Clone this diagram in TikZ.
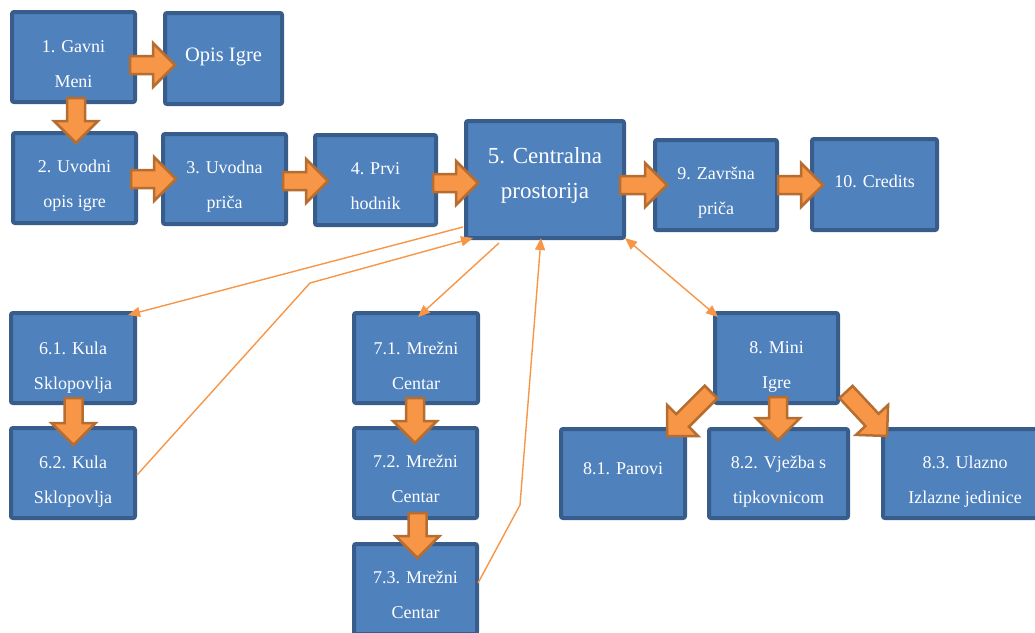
\documentclass[tikz,border=0pt]{standalone}
\usepackage{fontspec}
\setmainfont{Liberation Serif}
\usetikzlibrary{calc,arrows.meta}
\definecolor{boxfill}{HTML}{4F81BD}
\definecolor{boxline}{HTML}{385D8A}
\definecolor{orfill}{HTML}{F79646}
\definecolor{orline}{HTML}{B66D31}
\newcommand\blockarr[2]{%
  \path #1 coordinate (ba-s) #2 coordinate (ba-e);
  \draw[barrow] let \p1=($(ba-e)-(ba-s)$), \n1={atan2(\y1,\x1)}, \n2={veclen(\x1,\y1)} in
   [shift={(ba-s)}, rotate=\n1] (0,-9) -- ({\n2-22},-9) -- ({\n2-22},-22) -- (\n2,0) -- ({\n2-22},22) -- ({\n2-22},9) -- (0,9) -- cycle;}
\begin{document}
\begin{tikzpicture}[x=1pt,y=-1pt,
  box/.style={draw=boxline, fill=boxfill, line width=4pt, rounded corners=2pt, inner sep=0pt},
  txt/.style={text=white, align=center, font=\fontsize{18}{35}\selectfont, inner sep=0pt},
  barrow/.style={draw=orline, fill=orfill, line width=2.5pt, line join=miter},
  conn/.style={draw=orfill, line width=1.4pt, -{Triangle[length=12pt,width=10pt]}},
  conn2/.style={draw=orfill, line width=1.4pt, {Triangle[length=12pt,width=10pt]}-{Triangle[length=12pt,width=10pt]}}]
\useasboundingbox (0,0) rectangle (1035,632);
\clip (0,0) rectangle (1035,632);
% boxes
\node[box, minimum width=123pt, minimum height=90pt] (b1) at (73.5,57) {};
\node[box, minimum width=117pt, minimum height=91pt] (opis) at (223.5,58.5) {};
\node[box, minimum width=123pt, minimum height=90pt] (b2) at (74.5,178) {};
\node[box, minimum width=123pt, minimum height=90pt] (b3) at (224.5,179) {};
\node[box, minimum width=121pt, minimum height=90pt] (b4) at (375.5,180) {};
\node[box, minimum width=158pt, minimum height=117pt] (b5) at (545,179.5) {};
\node[box, minimum width=122pt, minimum height=90pt] (b9) at (716,185) {};
\node[box, minimum width=125pt, minimum height=91pt] (b10) at (874.5,184.5) {};
\node[box, minimum width=124pt, minimum height=90pt] (b61) at (73,358) {};
\node[box, minimum width=124pt, minimum height=90pt] (b62) at (73,473) {};
\node[box, minimum width=124pt, minimum height=90pt] (b71) at (416,358) {};
\node[box, minimum width=123pt, minimum height=90pt] (b72) at (415.5,473) {};
\node[box, minimum width=123pt, minimum height=90pt] (b73) at (415.5,589) {};
\node[box, minimum width=123pt, minimum height=90pt] (b8) at (776.5,358) {};
\node[box, minimum width=124pt, minimum height=89pt] (b81) at (623,473.5) {};
\node[box, minimum width=139pt, minimum height=89pt] (b82) at (778.5,473.5) {};
\node[box, minimum width=164pt, minimum height=89pt] (b83) at (965,473.5) {};
% texts
\node[txt] (t1) at ($(b1.center)+(0,7.5)$) {1. Gavni\\Meni};
\node[txt, font=\fontsize{20.5}{35}\selectfont] (topis) at ($(opis.center)+(0,-1.5)$) {Opis Igre};
\node[txt] (t2) at ($(b2.center)+(0,8)$) {2. Uvodni\\opis igre};
\node[txt] (t3) at ($(b3.center)+(0,8)$) {3. Uvodna\\priča};
\node[txt] (t4) at ($(b4.center)+(0,6)$) {4. Prvi\\hodnik};
\node[txt, font=\fontsize{23}{35}\selectfont] (t5) at ($(b5.center)+(0,-4.5)$) {5. Centralna\\prostorija};
\node[txt] (t9) at ($(b9.center)+(0,7.5)$) {9. Završna\\priča};
\node[txt] (t10) at ($(b10.center)+(0,-3.5)$) {10. Credits};
\node[txt] (t61) at ($(b61.center)+(0,10)$) {6.1. Kula\\Sklopovlja};
\node[txt] (t62) at ($(b62.center)+(0,8.5)$) {6.2. Kula\\Sklopovlja};
\node[txt] (t71) at ($(b71.center)+(0,7.5)$) {7.1. Mrežni\\Centar};
\node[txt] (t72) at ($(b72.center)+(0,6)$) {7.2. Mrežni\\Centar};
\node[txt] (t73) at ($(b73.center)+(0,6)$) {7.3. Mrežni\\Centar};
\node[txt] (t8) at ($(b8.center)+(0,8.5)$) {8. Mini\\Igre};
\node[txt] (t81) at ($(b81.center)+(0,-4.5)$) {8.1. Parovi};
\node[txt] (t82) at ($(b82.center)+(0,8.5)$) {8.2. Vježba s\\tipkovnicom};
\node[txt] (t83) at ($(b83.center)+(0,8)$) {8.3. Ulazno\\Izlazne jedinice};
% block arrows
\blockarr{($(b1.east)+(-7,8)$)}{($(opis.west)+(12,6.5)$)}
\blockarr{($(b1.south)+(2.5,-6)$)}{($(b2.north)+(1.5,12)$)}
\blockarr{($(b2.east)+(-7,1)$)}{($(b3.west)+(15,0)$)}
\blockarr{($(b3.east)+(-5,2)$)}{($(b4.west)+(15,1)$)}
\blockarr{($(b4.east)+(-5,3)$)}{($(b5.west)+(14,3.5)$)}
\blockarr{($(b5.east)+(-6,5.5)$)}{($(b9.west)+(14,0)$)}
\blockarr{($(b9.east)+(-1,0)$)}{($(b10.west)+(13,0.5)$)}
\blockarr{($(b61.south)+(0.5,-7)$)}{($(b62.north)+(0.5,19)$)}
\blockarr{($(b71.south)+(-1,-7)$)}{($(b72.north)+(-0.5,17)$)}
\blockarr{($(b72.south)+(2,-7)$)}{($(b73.north)+(2,16)$)}
\blockarr{($(b8.south)+(1.5,-8)$)}{($(b82.north)+(-0.5,13)$)}
\blockarr{($(b8.south west)+(-2,-13)$)}{($(b81.north east)+(-20,9)$)}
\blockarr{($(b8.south east)+(6,-13)$)}{($(b83.north west)+(6,9)$)}
% thin connectors
\coordinate (k1) at (310,283);
\coordinate (k2) at (520,505);
\draw[conn] ($(b5.south west)+(-1,-13)$) -- ($(b61.north east)+(-9,4)$);
\draw[conn] ($(b62.east)+(0,2)$) -- (k1) -- ($(b5.south west)+(9,-2)$);
\draw[conn] ($(b5.south)+(-46,3)$) -- ($(b71.north)+(2,6)$);
\draw[conn] ($(b73.east)+(-1,-6)$) -- (k2) -- ($(b5.south)+(-4,-2)$);
\draw[conn2] ($(b5.south east)+(-1,-2)$) -- ($(b8.north west)+(5,6)$);
\end{tikzpicture}
\end{document}
